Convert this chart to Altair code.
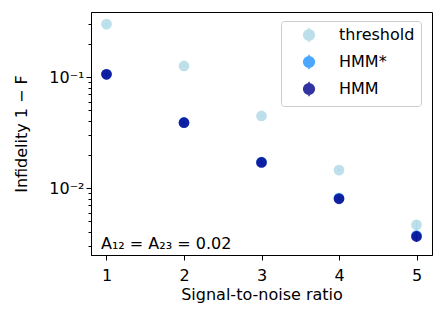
import altair as alt
import pandas as pd

snr = [1, 2, 3, 4, 5]
threshold = [0.300, 0.126, 0.0446, 0.0145, 0.00465]
threshold_err = [0.004, 0.002, 0.0008, 0.0004, 0.0005]
hmm_star = [0.106, 0.0390, 0.0171, 0.0081, 0.00372]
hmm_star_err = [0.003, 0.0012, 0.0006, 0.0003, 0.0003]
hmm = [0.106, 0.0388, 0.0170, 0.0080, 0.00366]
hmm_err = [0.003, 0.0012, 0.0006, 0.0003, 0.0004]

series = ["threshold", "HMM*", "HMM"]
colors = ["#add8e6", "#1e90ff", "#00008b"]

rows = []
for name, vals, errs in [("threshold", threshold, threshold_err),
                         ("HMM*", hmm_star, hmm_star_err),
                         ("HMM", hmm, hmm_err)]:
    for s, v, e in zip(snr, vals, errs):
        rows.append({"snr": s, "val": v, "lo": v - e, "hi": v + e,
                     "series": name, "order": series.index(name)})
df = pd.DataFrame(rows)

major = [0.01, 0.1]
minor = [0.003, 0.004, 0.005, 0.006, 0.007, 0.008, 0.009,
         0.02, 0.03, 0.04, 0.05, 0.06, 0.07, 0.08, 0.09, 0.2, 0.3]

FONT = "DejaVu Sans"

xscale = alt.Scale(domain=[0.8, 5.2], nice=False, zero=False)
yscale = alt.Scale(type="log", domain=[0.00249, 0.386], nice=False)
cscale = alt.Scale(domain=series, range=colors)

xenc = alt.X("snr:Q", scale=xscale, title="Signal-to-noise ratio",
             axis=alt.Axis(values=snr, format="d", grid=False, tickSize=5,
                           labelPadding=7, titlePadding=3))
yaxis = alt.Axis(values=major + minor, grid=False,
                 labelExpr="datum.value == 0.1 ? '10⁻¹' : datum.value == 0.01 ? '10⁻²' : ''",
                 tickSize={"condition": {"test": "datum.value == 0.1 || datum.value == 0.01", "value": 5}, "value": 3},
                 labelPadding=2, titlePadding=19, labelFlush=False)

legend = alt.Legend(orient="none", legendX=190, legendY=9, title=None,
                    symbolType="M-1,0A1,1,0,1,1,1,0A1,1,0,1,1,-1,0Z M0,-1.35L0,1.35",
                    symbolSize=115, symbolStrokeWidth=1.5,
                    labelFontSize=16, labelFont=FONT, labelColor="black",
                    rowPadding=5, padding=6, symbolOffset=14,
                    labelOffset=22, strokeColor="#cccccc",
                    fillColor="white", cornerRadius=3,
                    labelLimit=200)

cenc = alt.Color("series:N", scale=cscale, sort=series, legend=legend)

base = alt.Chart(df)

err = base.mark_rule(strokeWidth=1.5, opacity=0.8).encode(
    x=xenc,
    y=alt.Y("lo:Q", scale=yscale, title="Infidelity 1 − F", axis=yaxis),
    y2="hi:Q",
    color=cenc,
    order="order:Q",
)

pts = base.mark_point(filled=True, size=115, opacity=0.8).encode(
    x=xenc,
    y=alt.Y("val:Q", scale=yscale),
    color=cenc,
    order="order:Q",
)

note = alt.Chart(pd.DataFrame({"t": ["A₁₂ = A₂₃ = 0.02"]})).mark_text(
    align="left", baseline="alphabetic", fontSize=16, font=FONT, color="black"
).encode(x=alt.value(10), y=alt.value(237), text="t:N")

chart = alt.layer(err, pts, note).properties(
    width=341, height=243, padding={"left": 5, "top": 4, "right": 5, "bottom": 5}
).configure_view(stroke="black", strokeWidth=1).configure_axis(
    labelFont=FONT, titleFont=FONT, labelFontSize=16, titleFontSize=16,
    labelColor="black", titleColor="black", tickColor="black",
    domainColor="black", titleFontWeight="normal"
)

chart.save("out.html", embed_options={"renderer": "svg", "actions": False})
